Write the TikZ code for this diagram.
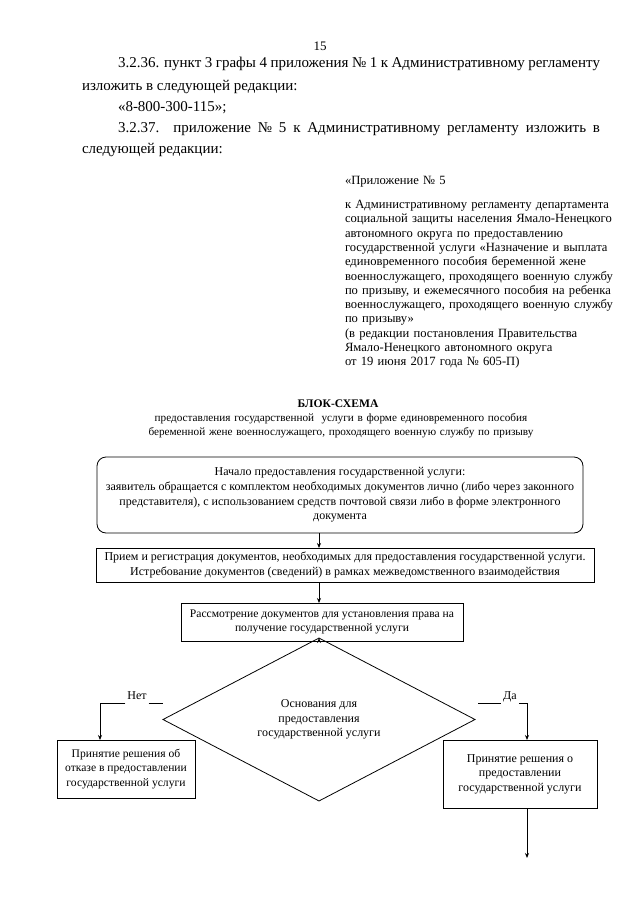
\documentclass[tikz,border=0pt]{standalone}
\usepackage{fontspec}
\setmainfont{Liberation Serif}
\usetikzlibrary{shapes.geometric,arrows.meta}
\begin{document}
\begin{tikzpicture}[x=1pt,y=-1pt,
  every node/.style={inner sep=0pt, outer sep=0pt},
  body/.style={font=\fontsize{15}{21}\selectfont, anchor=base west},
  small/.style={font=\fontsize{12.6}{14.3}\selectfont},
  fc/.style={font=\fontsize{12}{14.6}\selectfont},
  fcs/.style={font=\fontsize{11.6}{14.6}\selectfont},
  fbox/.style={draw, line width=0.8pt, fc, align=center},
  arr/.style={line width=0.8pt, -{Stealth[length=5pt,width=4pt]}},
  ln/.style={line width=0.8pt}
]
\useasboundingbox[fill=white] (0,0) rectangle (640,905);

% page number and text
\node[font=\fontsize{13}{15}\selectfont, anchor=base] (pg) at (320,50) {15};
\node[body] (l1) at (118,67) {\makebox[482pt][s]{3.2.36. пункт 3 графы 4 приложения № 1 к Административному регламенту}};
\node[body] (l2) at (82,90) {изложить в следующей редакции:};
\node[body] (l3) at (118,111) {«8-800-300-115»;};
\node[body] (l4) at (118,132) {\makebox[482pt][s]{3.2.37. приложение № 5 к Административному регламенту изложить в}};
\node[body] (l5) at (82,153) {следующей редакции:};

% appendix
\node[small, anchor=base west, text width=280pt, align=left] (app) at (345,184.5) {%
«Приложение № 5\\[9.7pt]
к Административному регламенту департамента\\
социальной защиты населения Ямало-Ненецкого\\
автономного округа по предоставлению\\
государственной услуги «Назначение и выплата\\
единовременного пособия беременной жене\\
военнослужащего, проходящего военную службу\\
по призыву, и ежемесячного пособия на ребенка\\
военнослужащего, проходящего военную службу\\
по призыву»\\
(в редакции постановления Правительства\\
Ямало-Ненецкого автономного округа\\
от 19 июня 2017 года № 605-П)};

% title
\node[font=\bfseries\fontsize{11.6}{14}\selectfont, anchor=base] (title) at (338,407) {БЛОК-СХЕМА};
\node[font=\fontsize{11.2}{14}\selectfont, anchor=base, text width=500pt, align=center] (sub) at (341,421) {%
предоставления государственной\ \ услуги в форме единовременного пособия\\
беременной жене военнослужащего, проходящего военную службу по призыву};

% flowchart
\coordinate (ax) at (319,0);
\node[fbox, rounded corners=9pt, minimum width=486pt, minimum height=76pt] (b1) at (340,495) {%
Начало предоставления государственной услуги:\\
заявитель обращается с комплектом необходимых документов лично (либо через законного\\
представителя), с использованием средств почтовой связи либо в форме электронного\\
документа};
\node[fbox, minimum width=498pt, minimum height=34pt] (b2) at (345,565) {%
Прием и регистрация документов, необходимых для предоставления государственной услуги.\\
Истребование документов (сведений) в рамках межведомственного взаимодействия};
\node[fbox, fcs, minimum width=282pt, minimum height=38pt] (b3) at (322,622) {%
Рассмотрение документов для установления права на\\
получение государственной услуги};
\node[draw, line width=0.8pt, diamond, fc, align=center, minimum width=312pt, minimum height=95pt] (dec) at (319,719.5) {%
Основания для\\ предоставления\\ государственной услуги};
\node[fbox, fcs, minimum width=138pt, minimum height=58pt] (lb) at (126,769) {%
Принятие решения об\\ отказе в предоставлении\\ государственной услуги};
\node[fbox, minimum width=154pt, minimum height=68pt] (rb) at (520,774) {%
Принятие решения о\\ предоставлении\\ государственной услуги};

\draw[arr] (b1.south -| ax) -- (b2.north -| ax);
\draw[arr] (b2.south -| ax) -- (b3.north -| ax);
\draw[arr] (b3.south -| ax) -- (dec.north);

% Нет branch
\coordinate (nx) at (100,703);
\node[fc, anchor=base] (net) at (137,699) {Нет};
\draw[ln] ([xshift=2pt]net.east |- nx) -- (dec.west |- nx);
\draw[arr] ([xshift=-2pt]net.west |- nx) -- (nx) -- (nx |- lb.north);

% Да branch
\coordinate (dx) at (527,703);
\node[fc, anchor=base] (da) at (510,699) {Да};
\draw[ln] ([xshift=3pt]dec.east |- dx) -- ([xshift=-2pt]da.west |- dx);
\draw[arr] ([xshift=2pt]da.east |- dx) -- (dx) -- (dx |- rb.north);

% bottom arrow
\coordinate (end) at (527,858);
\draw[arr] (rb.south -| end) -- (end);
\end{tikzpicture}
\end{document}
